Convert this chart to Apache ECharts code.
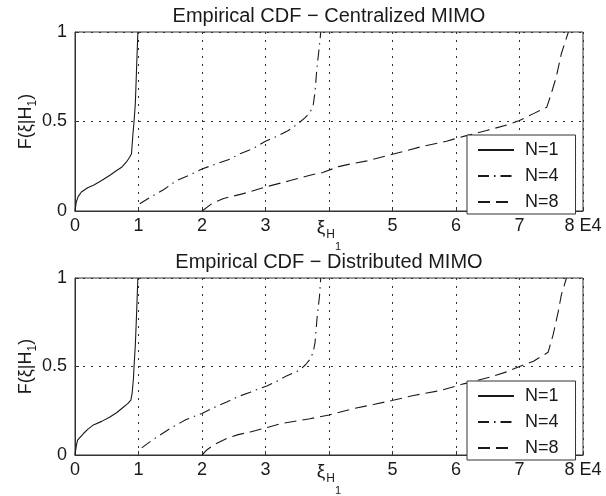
<!DOCTYPE html>
<html><head><meta charset="utf-8">
<script src="https://cdn.jsdelivr.net/npm/echarts@6/dist/echarts.min.js"></script>
<style>html,body{margin:0;padding:0;background:#fff}#c{width:606px;height:496px}</style>
</head><body><div id="c"></div>
<script>
// ---- data (x in units of 1E4) ----
const titles = ['Empirical CDF \u2212 Centralized MIMO', 'Empirical CDF \u2212 Distributed MIMO'];
const seriesNames = ['N=1', 'N=4', 'N=8'];
const xTicks = ['0', '1', '2', '3', 'XI', '5', '6', '7', '8 E4'];
const yTicks = ['0', '0.5', '1'];

const topN1 = [[0,0],[0.02,0.05],[0.05,0.08],[0.1,0.106],[0.2,0.13],[0.29,0.144],[0.42,0.17],[0.55,0.2],[0.65,0.225],[0.74,0.246],[0.81,0.274],[0.86,0.3],[0.89,0.32],[0.91,0.42],[0.93,0.5],[0.95,0.6],[0.96,0.7],[0.975,0.85],[0.99,1]];
const topN4 = [[1.02,0.04],[1.2,0.08],[1.4,0.12],[1.6,0.17],[1.8,0.2],[2.0,0.235],[2.2,0.26],[2.44,0.29],[2.6,0.32],[2.81,0.35],[3.0,0.39],[3.2,0.42],[3.36,0.45],[3.52,0.49],[3.62,0.52],[3.7,0.55],[3.75,0.59],[3.78,0.665],[3.81,0.8],[3.85,0.925],[3.87,1]];
const topN8 = [[2.0,0],[2.15,0.04],[2.34,0.07],[2.65,0.097],[3.0,0.134],[3.39,0.17],[3.7,0.2],[3.9,0.215],[4.15,0.248],[4.33,0.262],[4.6,0.28],[5.0,0.317],[5.43,0.357],[5.85,0.39],[6.12,0.417],[6.48,0.45],[6.8,0.48],[7.0,0.505],[7.22,0.544],[7.43,0.58],[7.5,0.656],[7.58,0.75],[7.66,0.88],[7.77,1]];

const botN1 = [[0,0],[0.02,0.05],[0.04,0.084],[0.13,0.12],[0.2,0.145],[0.29,0.17],[0.42,0.19],[0.55,0.215],[0.66,0.24],[0.76,0.27],[0.83,0.29],[0.88,0.31],[0.9,0.35],[0.92,0.43],[0.93,0.5],[0.95,0.62],[0.97,0.8],[0.99,1]];
const botN4 = [[1.05,0.04],[1.2,0.08],[1.5,0.15],[1.75,0.2],[2.0,0.235],[2.2,0.27],[2.39,0.3],[2.57,0.33],[2.76,0.355],[3.02,0.39],[3.2,0.42],[3.33,0.447],[3.54,0.48],[3.63,0.51],[3.7,0.54],[3.75,0.58],[3.78,0.635],[3.81,0.766],[3.85,0.897],[3.87,1]];
const botN8 = [[2.0,0],[2.08,0.03],[2.18,0.056],[2.39,0.094],[2.57,0.115],[2.76,0.13],[3.07,0.16],[3.28,0.18],[3.7,0.205],[4.0,0.226],[4.38,0.262],[4.7,0.285],[4.99,0.308],[5.33,0.336],[5.75,0.364],[6.12,0.402],[6.54,0.44],[6.8,0.47],[7.0,0.5],[7.22,0.53],[7.45,0.58],[7.53,0.68],[7.61,0.81],[7.66,0.906],[7.74,1]];

const panels = [[topN1, topN4, topN8], [botN1, botN4, botN8]];

// ---- styling ----
const FONT = 'Liberation Sans, Arial, sans-serif';
const INK = '#1a1a1a';
const dashes = ['solid', [11, 5, 1.5, 5], [12, 6]];
const gridTops = [32, 278];
const GH = 179, GL = 75, GW = 508;

const chart = echarts.init(document.getElementById('c'), null, {renderer: 'canvas'});

const grids = [], xAxes = [], yAxes = [], series = [], legends = [], titleOpts = [];

panels.forEach((p, i) => {
  grids.push({left: GL, top: gridTops[i], width: GW, height: GH, show: true,
    borderColor: '#333', borderWidth: 1, backgroundColor: '#fff'});
  xAxes.push({type: 'value', gridIndex: i, min: 0, max: 8, interval: 1,
    axisLine: {show: true, onZero: false, lineStyle: {color: '#333', width: 1}},
    axisTick: {show: true, inside: true, length: 4, lineStyle: {color: '#333'}},
    splitLine: {show: true, lineStyle: {color: '#333', width: 1, type: [2, 6]}},
    axisLabel: {margin: 6, color: INK, fontFamily: FONT, fontSize: 18,
      formatter: v => {
        const t = xTicks[Math.round(v)];
        return t === 'XI' ? '{x|\u03be}{h|H}{o|1}' : t;
      },
      rich: {
        x: {fontSize: 19, fontFamily: FONT, color: INK, verticalAlign: 'top', padding: [1, 1, 0, 0]},
        h: {fontSize: 12, fontFamily: FONT, color: INK, verticalAlign: 'top', padding: [12, 0, 0, 0]},
        o: {fontSize: 11, fontFamily: FONT, color: INK, verticalAlign: 'top', padding: [24, 0, 0, 0]}
      }
    }
  });
  yAxes.push({type: 'value', gridIndex: i, min: 0, max: 1, interval: 0.5,
    axisLine: {show: true, lineStyle: {color: '#333', width: 1}},
    axisTick: {show: true, inside: true, length: 4, lineStyle: {color: '#333'}},
    splitLine: {show: true, lineStyle: {color: '#333', width: 1, type: [2, 6]}},
    axisLabel: {margin: 8, color: INK, fontFamily: FONT, fontSize: 18,
      formatter: v => yTicks[Math.round(v * 2)]},
    name: '{a|F(\u03be|H}{s|1}{a|)}', nameLocation: 'middle', nameRotate: 90, nameGap: 36,
    nameMoveOverlap: false,
    nameTextStyle: {rich: {
      a: {fontSize: 18, fontFamily: FONT, color: INK, lineHeight: 26},
      s: {fontSize: 12, fontFamily: FONT, color: INK, lineHeight: 14, verticalAlign: 'bottom'}
    }}
  });
  p.forEach((d, k) => {
    series.push({type: 'line', name: seriesNames[k], xAxisIndex: i, yAxisIndex: i,
      data: d, symbol: 'none', showSymbol: false, smooth: false, animation: false,
      lineStyle: {color: '#1a1a1a', width: 1.1, type: dashes[k]},
      itemStyle: {color: '#1a1a1a'}});
  });
  legends.push({show: true, orient: 'vertical', left: 467, top: gridTops[i] + 103,
    padding: [6, 17, 3, 10], itemGap: 8, itemWidth: 36, itemHeight: 15,
    backgroundColor: '#fff', borderColor: '#333', borderWidth: 1, borderRadius: 0,
    selectedMode: false, data: seriesNames,
    itemStyle: {opacity: 0},
    textStyle: {fontFamily: FONT, fontSize: 18, color: INK, padding: [0, 0, 0, 6]}});
  titleOpts.push({text: titles[i], left: GL + GW / 2, top: gridTops[i] - 26, textAlign: 'center', padding: 0,
    textStyle: {fontFamily: FONT, fontSize: 20, fontWeight: 'normal', color: INK}});
});

chart.setOption({
  animation: false,
  backgroundColor: '#fff',
  title: titleOpts,
  grid: grids,
  xAxis: xAxes,
  yAxis: yAxes,
  legend: legends,
  series: series
});
</script></body></html>
